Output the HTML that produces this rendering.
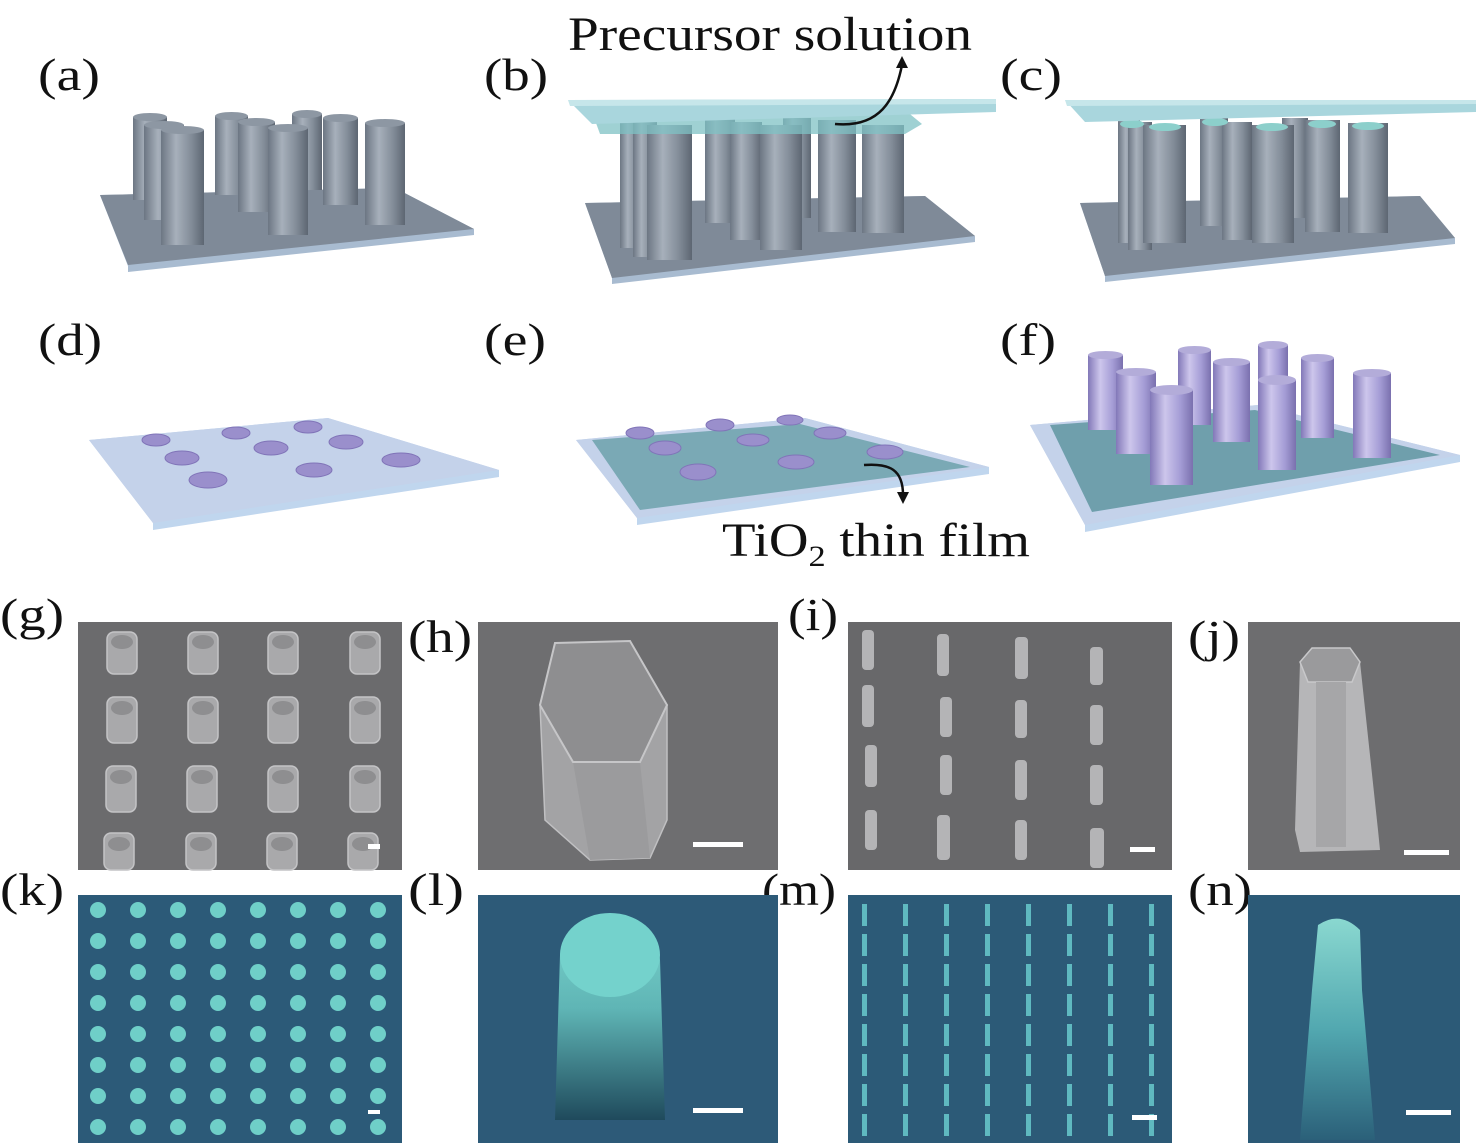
<!DOCTYPE html>
<html><head><meta charset="utf-8"><style>
html,body{margin:0;padding:0;background:#fff;}
svg{display:block;}
text{font-family:"Liberation Serif",serif;fill:#111;}
</style></head><body>
<svg width="1476" height="1146" viewBox="0 0 1476 1146" xmlns="http://www.w3.org/2000/svg">
<defs>
<linearGradient id="gc" x1="0" x2="1" y1="0" y2="0">
<stop offset="0" stop-color="#6c7683"/><stop offset="0.35" stop-color="#a7b0bb"/><stop offset="0.7" stop-color="#838d99"/><stop offset="1" stop-color="#5d6672"/></linearGradient>
<linearGradient id="pc" x1="0" x2="1" y1="0" y2="0">
<stop offset="0" stop-color="#8278b8"/><stop offset="0.35" stop-color="#cdc6ec"/><stop offset="0.7" stop-color="#a59dd6"/><stop offset="1" stop-color="#7a70ae"/></linearGradient>
<linearGradient id="lt" x1="0" x2="0" y1="0" y2="1">
<stop offset="0" stop-color="#7ad3cd"/><stop offset="0.45" stop-color="#5fb5b5"/><stop offset="1" stop-color="#1f4a5c"/></linearGradient>
<linearGradient id="nt" x1="0" x2="0" y1="0" y2="1">
<stop offset="0" stop-color="#8ad8d0"/><stop offset="0.5" stop-color="#52a8b0"/><stop offset="1" stop-color="#2b6079"/></linearGradient>
</defs>

<!-- labels -->
<text x="38" y="90" font-size="46" textLength="62" lengthAdjust="spacingAndGlyphs">(a)</text>
<text x="484" y="90" font-size="46" textLength="64" lengthAdjust="spacingAndGlyphs">(b)</text>
<text x="1000" y="90" font-size="46" textLength="62" lengthAdjust="spacingAndGlyphs">(c)</text>
<text x="568" y="50" font-size="48" textLength="404" lengthAdjust="spacingAndGlyphs">Precursor solution</text>
<text x="38" y="355" font-size="46" textLength="64" lengthAdjust="spacingAndGlyphs">(d)</text>
<text x="484" y="355" font-size="46" textLength="62" lengthAdjust="spacingAndGlyphs">(e)</text>
<text x="1000" y="355" font-size="46" textLength="56" lengthAdjust="spacingAndGlyphs">(f)</text>
<text x="722" y="556" font-size="48" textLength="308" lengthAdjust="spacingAndGlyphs">TiO<tspan font-size="30" dy="10">2</tspan><tspan dy="-10"> thin film</tspan></text>
<text x="0" y="630" font-size="46" textLength="64" lengthAdjust="spacingAndGlyphs">(g)</text>
<text x="408" y="652" font-size="46" textLength="64" lengthAdjust="spacingAndGlyphs">(h)</text>
<text x="788" y="630" font-size="46" textLength="50" lengthAdjust="spacingAndGlyphs">(i)</text>
<text x="1188" y="652" font-size="46" textLength="52" lengthAdjust="spacingAndGlyphs">(j)</text>
<text x="0" y="905" font-size="46" textLength="64" lengthAdjust="spacingAndGlyphs">(k)</text>
<text x="408" y="905" font-size="46" textLength="56" lengthAdjust="spacingAndGlyphs">(l)</text>
<text x="762" y="905" font-size="46" textLength="74" lengthAdjust="spacingAndGlyphs">(m)</text>
<text x="1188" y="905" font-size="46" textLength="64" lengthAdjust="spacingAndGlyphs">(n)</text>

<!-- (a) -->
<polygon points="100,195 395,188 474,229 474,235 128,272 128,266" fill="#a8bbd0"/>
<polygon points="100,195 395,188 474,229 128,265" fill="#7f8a98"/>
<g fill="url(#gc)">
<rect x="133" y="117" width="34" height="83"/><ellipse cx="150" cy="117" rx="17" ry="4" fill="#8d97a3"/>
<rect x="215" y="116" width="33" height="79"/><ellipse cx="231.5" cy="116" rx="16.5" ry="4" fill="#8d97a3"/>
<rect x="292" y="114" width="30" height="76"/><ellipse cx="307" cy="114" rx="15" ry="4" fill="#8d97a3"/>
<rect x="144" y="125" width="40" height="95"/><ellipse cx="164" cy="125" rx="20" ry="4" fill="#8d97a3"/>
<rect x="238" y="122" width="37" height="90"/><ellipse cx="256.5" cy="122" rx="18.5" ry="4" fill="#8d97a3"/>
<rect x="323" y="118" width="35" height="87"/><ellipse cx="340.5" cy="118" rx="17.5" ry="4" fill="#8d97a3"/>
<rect x="161" y="130" width="43" height="115"/><ellipse cx="182.5" cy="130" rx="21.5" ry="4" fill="#8d97a3"/>
<rect x="268" y="128" width="40" height="107"/><ellipse cx="288" cy="128" rx="20" ry="4" fill="#8d97a3"/>
<rect x="365" y="123" width="40" height="102"/><ellipse cx="385" cy="123" rx="20" ry="4" fill="#8d97a3"/>
</g>

<!-- (b) -->
<polygon points="585,203 925,196 975,236 975,242 612,284 612,278" fill="#a8bbd0"/>
<polygon points="585,203 925,196 975,236 612,278" fill="#7f8a98"/>
<g fill="url(#gc)">
<rect x="620" y="118" width="22" height="130"/>
<rect x="633" y="122" width="24" height="135"/>
<rect x="705" y="118" width="30" height="105"/>
<rect x="783" y="118" width="28" height="100"/>
<rect x="730" y="122" width="32" height="118"/>
<rect x="818" y="120" width="38" height="112"/>
<rect x="647" y="125" width="45" height="135"/>
<rect x="760" y="125" width="42" height="125"/>
<rect x="862" y="125" width="42" height="108"/>
</g>
<polygon points="592,112 905,110 922,124 905,134 600,134" fill="#7fc1c4" opacity="0.75"/>
<polygon points="568,100 996,99 996,112 592,124" fill="#a9d6dd"/>
<polygon points="568,100 996,99 996,104 570,106" fill="#c6e6ea"/>
<path d="M835,124 C880,128 895,100 902,65" fill="none" stroke="#111" stroke-width="2.5"/>
<polygon points="902,56 896,68 908,68" fill="#111"/>

<!-- (c) -->
<polygon points="1080,203 1420,196 1455,238 1455,244 1105,282 1105,276" fill="#a8bbd0"/>
<polygon points="1080,203 1420,196 1455,238 1105,276" fill="#7f8a98"/>
<g fill="url(#gc)">
<rect x="1118" y="118" width="22" height="125"/>
<rect x="1128" y="122" width="24" height="128"/>
<rect x="1200" y="118" width="28" height="108"/>
<rect x="1282" y="118" width="26" height="100"/>
<rect x="1222" y="122" width="30" height="118"/>
<rect x="1305" y="120" width="35" height="112"/>
<rect x="1143" y="125" width="43" height="118"/>
<rect x="1252" y="125" width="42" height="118"/>
<rect x="1348" y="123" width="40" height="110"/>
</g>
<g fill="#8ccfcb">
<ellipse cx="1132" cy="124" rx="12" ry="4"/><ellipse cx="1165" cy="127" rx="16" ry="4"/><ellipse cx="1215" cy="122" rx="13" ry="4"/>
<ellipse cx="1272" cy="127" rx="16" ry="4"/><ellipse cx="1322" cy="124" rx="14" ry="4"/><ellipse cx="1368" cy="126" rx="16" ry="4"/>
</g>
<polygon points="1065,100 1476,100 1476,112 1085,122" fill="#a9d6dd"/>
<polygon points="1065,100 1476,100 1476,104 1067,106" fill="#c6e6ea"/>

<!-- (d) -->
<polygon points="89,440 328,418 499,470 499,477 153,530 153,523" fill="#c0d6ee"/>
<polygon points="89,440 328,418 499,470 153,523" fill="#c4d2ea"/>
<g fill="#9a8fcc" stroke="#8074b8" stroke-width="1">
<ellipse cx="156" cy="440" rx="14" ry="6"/><ellipse cx="236" cy="433" rx="14" ry="6"/><ellipse cx="308" cy="427" rx="14" ry="6"/>
<ellipse cx="182" cy="458" rx="17" ry="7"/><ellipse cx="271" cy="448" rx="17" ry="7"/><ellipse cx="346" cy="442" rx="17" ry="7"/>
<ellipse cx="208" cy="480" rx="19" ry="8"/><ellipse cx="314" cy="470" rx="18" ry="7"/><ellipse cx="401" cy="460" rx="19" ry="7"/>
</g>

<!-- (e) -->
<polygon points="576,440 805,418 989,467 989,474 637,525 637,518" fill="#c0d6ee"/>
<polygon points="576,440 805,418 989,467 637,518" fill="#c4d2ea"/>
<polygon points="592,440 800,424 970,467 640,510" fill="#7aa9b5"/>
<g fill="#9a8fcc" stroke="#8074b8" stroke-width="1">
<ellipse cx="640" cy="433" rx="14" ry="6"/><ellipse cx="720" cy="425" rx="14" ry="6"/><ellipse cx="790" cy="420" rx="13" ry="5"/>
<ellipse cx="665" cy="448" rx="16" ry="7"/><ellipse cx="753" cy="440" rx="16" ry="6"/><ellipse cx="830" cy="433" rx="16" ry="6"/>
<ellipse cx="698" cy="472" rx="18" ry="8"/><ellipse cx="796" cy="462" rx="18" ry="7"/><ellipse cx="885" cy="452" rx="18" ry="7"/>
</g>
<path d="M864,465 C890,463 903,470 903,495" fill="none" stroke="#111" stroke-width="2.5"/>
<polygon points="903,504 897,492 909,492" fill="#111"/>

<!-- (f) -->
<polygon points="1030,425 1258,405 1460,455 1460,462 1085,532 1085,525" fill="#c0d6ee"/>
<polygon points="1030,425 1258,405 1460,455 1085,525" fill="#c4d2ea"/>
<polygon points="1050,425 1255,410 1440,455 1092,512" fill="#6f9fac"/>
<g fill="url(#pc)">
<rect x="1088" y="355" width="35" height="75"/><ellipse cx="1105.5" cy="355" rx="17.5" ry="4" fill="#b3acd9"/>
<rect x="1178" y="350" width="33" height="75"/><ellipse cx="1194.5" cy="350" rx="16.5" ry="4" fill="#b3acd9"/>
<rect x="1258" y="345" width="30" height="55"/><ellipse cx="1273" cy="345" rx="15" ry="4" fill="#b3acd9"/>
<rect x="1301" y="358" width="33" height="80"/><ellipse cx="1317.5" cy="358" rx="16.5" ry="4" fill="#b3acd9"/>
<rect x="1213" y="362" width="37" height="80"/><ellipse cx="1231.5" cy="362" rx="18.5" ry="4" fill="#b3acd9"/>
<rect x="1353" y="373" width="38" height="85"/><ellipse cx="1372" cy="373" rx="19" ry="4" fill="#b3acd9"/>
<rect x="1116" y="372" width="40" height="82"/><ellipse cx="1136" cy="372" rx="20" ry="4" fill="#b3acd9"/>
<rect x="1150" y="390" width="43" height="95"/><ellipse cx="1171.5" cy="390" rx="21.5" ry="5" fill="#b3acd9"/>
<rect x="1258" y="380" width="38" height="90"/><ellipse cx="1277" cy="380" rx="19" ry="5" fill="#b3acd9"/>
</g>

<!-- (g) -->
<rect x="78" y="622" width="324" height="248" fill="#6b6b6d"/>
<g fill="#a9a9ab" stroke="#c4c4c6" stroke-width="1.5">
<rect x="107" y="632" width="30" height="42" rx="7"/><rect x="188" y="632" width="30" height="42" rx="7"/><rect x="268" y="632" width="30" height="42" rx="7"/><rect x="350" y="632" width="30" height="42" rx="7"/>
<rect x="107" y="697" width="30" height="46" rx="7"/><rect x="188" y="697" width="30" height="46" rx="7"/><rect x="268" y="697" width="30" height="46" rx="7"/><rect x="350" y="697" width="30" height="46" rx="7"/>
<rect x="106" y="766" width="30" height="46" rx="7"/><rect x="187" y="766" width="30" height="46" rx="7"/><rect x="268" y="766" width="30" height="46" rx="7"/><rect x="350" y="766" width="30" height="46" rx="7"/>
<rect x="104" y="833" width="30" height="37" rx="7"/><rect x="186" y="833" width="30" height="37" rx="7"/><rect x="267" y="833" width="30" height="37" rx="7"/><rect x="348" y="833" width="30" height="37" rx="7"/>
</g>
<g fill="#8e8e90">
<ellipse cx="122" cy="642" rx="11" ry="7"/><ellipse cx="203" cy="642" rx="11" ry="7"/><ellipse cx="283" cy="642" rx="11" ry="7"/><ellipse cx="365" cy="642" rx="11" ry="7"/>
<ellipse cx="122" cy="708" rx="11" ry="7"/><ellipse cx="203" cy="708" rx="11" ry="7"/><ellipse cx="283" cy="708" rx="11" ry="7"/><ellipse cx="365" cy="708" rx="11" ry="7"/>
<ellipse cx="121" cy="777" rx="11" ry="7"/><ellipse cx="202" cy="777" rx="11" ry="7"/><ellipse cx="283" cy="777" rx="11" ry="7"/><ellipse cx="365" cy="777" rx="11" ry="7"/>
<ellipse cx="119" cy="844" rx="11" ry="7"/><ellipse cx="201" cy="844" rx="11" ry="7"/><ellipse cx="282" cy="844" rx="11" ry="7"/><ellipse cx="363" cy="844" rx="11" ry="7"/>
</g>
<rect x="368" y="844" width="12" height="5" fill="#fff"/>

<!-- (h) -->
<rect x="478" y="622" width="300" height="248" fill="#6e6e70"/>
<polygon points="540,705 545,820 590,860 650,858 667,820 667,705" fill="#a3a3a5" stroke="#c0c0c2" stroke-width="1.5"/>
<polygon points="573,762 640,762 650,858 590,860" fill="#9b9b9d"/>
<polygon points="555,643 630,641 667,705 640,762 573,762 540,705" fill="#8e8e90" stroke="#c6c6c8" stroke-width="2"/>
<rect x="693" y="842" width="50" height="5" fill="#fff"/>

<!-- (i) -->
<rect x="848" y="622" width="324" height="248" fill="#68686a"/>
<g fill="#b4b4b6">
<rect x="862" y="630" width="12" height="40" rx="4"/><rect x="937" y="634" width="12" height="42" rx="4"/><rect x="1015" y="637" width="13" height="42" rx="4"/><rect x="1090" y="647" width="13" height="38" rx="4"/>
<rect x="862" y="685" width="12" height="42" rx="4"/><rect x="940" y="697" width="12" height="40" rx="4"/><rect x="1015" y="700" width="12" height="38" rx="4"/><rect x="1090" y="705" width="13" height="40" rx="4"/>
<rect x="865" y="745" width="12" height="42" rx="4"/><rect x="940" y="755" width="12" height="40" rx="4"/><rect x="1015" y="760" width="12" height="40" rx="4"/><rect x="1090" y="765" width="13" height="40" rx="4"/>
<rect x="865" y="810" width="12" height="40" rx="4"/><rect x="937" y="815" width="13" height="45" rx="4"/><rect x="1015" y="820" width="12" height="40" rx="4"/><rect x="1090" y="828" width="14" height="40" rx="4"/>
</g>
<rect x="1130" y="847" width="25" height="5" fill="#fff"/>

<!-- (j) -->
<rect x="1248" y="622" width="212" height="248" fill="#6d6d6f"/>
<polygon points="1312,648 1350,648 1360,662 1378,830 1380,850 1300,852 1295,830 1300,662" fill="#b6b6b8"/>
<polygon points="1312,648 1350,648 1360,662 1352,682 1308,682 1300,662" fill="#9a9a9c" stroke="#c8c8ca" stroke-width="1.5"/>
<rect x="1316" y="682" width="30" height="165" fill="#a6a6a8"/>
<rect x="1404" y="850" width="45" height="5" fill="#fff"/>

<!-- (k) -->
<rect x="78" y="895" width="324" height="248" fill="#2c5a78"/>
<g fill="#6fcfc8">
<circle cx="98" cy="910" r="8"/><circle cx="138" cy="910" r="8"/><circle cx="178" cy="910" r="8"/><circle cx="218" cy="910" r="8"/><circle cx="258" cy="910" r="8"/><circle cx="298" cy="910" r="8"/><circle cx="338" cy="910" r="8"/><circle cx="378" cy="910" r="8"/>
<circle cx="98" cy="941" r="8"/><circle cx="138" cy="941" r="8"/><circle cx="178" cy="941" r="8"/><circle cx="218" cy="941" r="8"/><circle cx="258" cy="941" r="8"/><circle cx="298" cy="941" r="8"/><circle cx="338" cy="941" r="8"/><circle cx="378" cy="941" r="8"/>
<circle cx="98" cy="972" r="8"/><circle cx="138" cy="972" r="8"/><circle cx="178" cy="972" r="8"/><circle cx="218" cy="972" r="8"/><circle cx="258" cy="972" r="8"/><circle cx="298" cy="972" r="8"/><circle cx="338" cy="972" r="8"/><circle cx="378" cy="972" r="8"/>
<circle cx="98" cy="1003" r="8"/><circle cx="138" cy="1003" r="8"/><circle cx="178" cy="1003" r="8"/><circle cx="218" cy="1003" r="8"/><circle cx="258" cy="1003" r="8"/><circle cx="298" cy="1003" r="8"/><circle cx="338" cy="1003" r="8"/><circle cx="378" cy="1003" r="8"/>
<circle cx="98" cy="1034" r="8"/><circle cx="138" cy="1034" r="8"/><circle cx="178" cy="1034" r="8"/><circle cx="218" cy="1034" r="8"/><circle cx="258" cy="1034" r="8"/><circle cx="298" cy="1034" r="8"/><circle cx="338" cy="1034" r="8"/><circle cx="378" cy="1034" r="8"/>
<circle cx="98" cy="1065" r="8"/><circle cx="138" cy="1065" r="8"/><circle cx="178" cy="1065" r="8"/><circle cx="218" cy="1065" r="8"/><circle cx="258" cy="1065" r="8"/><circle cx="298" cy="1065" r="8"/><circle cx="338" cy="1065" r="8"/><circle cx="378" cy="1065" r="8"/>
<circle cx="98" cy="1096" r="8"/><circle cx="138" cy="1096" r="8"/><circle cx="178" cy="1096" r="8"/><circle cx="218" cy="1096" r="8"/><circle cx="258" cy="1096" r="8"/><circle cx="298" cy="1096" r="8"/><circle cx="338" cy="1096" r="8"/><circle cx="378" cy="1096" r="8"/>
<circle cx="98" cy="1127" r="8"/><circle cx="138" cy="1127" r="8"/><circle cx="178" cy="1127" r="8"/><circle cx="218" cy="1127" r="8"/><circle cx="258" cy="1127" r="8"/><circle cx="298" cy="1127" r="8"/><circle cx="338" cy="1127" r="8"/><circle cx="378" cy="1127" r="8"/>
</g>
<rect x="368" y="1110" width="12" height="4" fill="#fff"/>

<!-- (l) -->
<rect x="478" y="895" width="300" height="248" fill="#2d5a78"/>
<path d="M560,955 Q565,920 610,918 Q655,920 660,960 L665,1120 L555,1120 Z" fill="url(#lt)"/>
<ellipse cx="610" cy="955" rx="50" ry="42" fill="#74d2cc"/>
<rect x="693" y="1108" width="50" height="5" fill="#fff"/>

<!-- (m) -->
<rect x="848" y="895" width="324" height="248" fill="#2c5a77"/>
<g fill="#5fb9c0">
<rect x="862" y="904" width="5" height="22"/><rect x="903" y="904" width="5" height="22"/><rect x="944" y="904" width="5" height="22"/><rect x="985" y="904" width="5" height="22"/><rect x="1026" y="904" width="5" height="22"/><rect x="1067" y="904" width="5" height="22"/><rect x="1108" y="904" width="5" height="22"/><rect x="1149" y="904" width="5" height="22"/>
<rect x="862" y="934" width="5" height="22"/><rect x="903" y="934" width="5" height="22"/><rect x="944" y="934" width="5" height="22"/><rect x="985" y="934" width="5" height="22"/><rect x="1026" y="934" width="5" height="22"/><rect x="1067" y="934" width="5" height="22"/><rect x="1108" y="934" width="5" height="22"/><rect x="1149" y="934" width="5" height="22"/>
<rect x="862" y="964" width="5" height="22"/><rect x="903" y="964" width="5" height="22"/><rect x="944" y="964" width="5" height="22"/><rect x="985" y="964" width="5" height="22"/><rect x="1026" y="964" width="5" height="22"/><rect x="1067" y="964" width="5" height="22"/><rect x="1108" y="964" width="5" height="22"/><rect x="1149" y="964" width="5" height="22"/>
<rect x="862" y="994" width="5" height="22"/><rect x="903" y="994" width="5" height="22"/><rect x="944" y="994" width="5" height="22"/><rect x="985" y="994" width="5" height="22"/><rect x="1026" y="994" width="5" height="22"/><rect x="1067" y="994" width="5" height="22"/><rect x="1108" y="994" width="5" height="22"/><rect x="1149" y="994" width="5" height="22"/>
<rect x="862" y="1024" width="5" height="22"/><rect x="903" y="1024" width="5" height="22"/><rect x="944" y="1024" width="5" height="22"/><rect x="985" y="1024" width="5" height="22"/><rect x="1026" y="1024" width="5" height="22"/><rect x="1067" y="1024" width="5" height="22"/><rect x="1108" y="1024" width="5" height="22"/><rect x="1149" y="1024" width="5" height="22"/>
<rect x="862" y="1054" width="5" height="22"/><rect x="903" y="1054" width="5" height="22"/><rect x="944" y="1054" width="5" height="22"/><rect x="985" y="1054" width="5" height="22"/><rect x="1026" y="1054" width="5" height="22"/><rect x="1067" y="1054" width="5" height="22"/><rect x="1108" y="1054" width="5" height="22"/><rect x="1149" y="1054" width="5" height="22"/>
<rect x="862" y="1084" width="5" height="22"/><rect x="903" y="1084" width="5" height="22"/><rect x="944" y="1084" width="5" height="22"/><rect x="985" y="1084" width="5" height="22"/><rect x="1026" y="1084" width="5" height="22"/><rect x="1067" y="1084" width="5" height="22"/><rect x="1108" y="1084" width="5" height="22"/><rect x="1149" y="1084" width="5" height="22"/>
<rect x="862" y="1114" width="5" height="22"/><rect x="903" y="1114" width="5" height="22"/><rect x="944" y="1114" width="5" height="22"/><rect x="985" y="1114" width="5" height="22"/><rect x="1026" y="1114" width="5" height="22"/><rect x="1067" y="1114" width="5" height="22"/><rect x="1108" y="1114" width="5" height="22"/><rect x="1149" y="1114" width="5" height="22"/>
</g>
<rect x="1132" y="1115" width="25" height="5" fill="#fff"/>

<!-- (n) -->
<rect x="1248" y="895" width="212" height="248" fill="#2c5a77"/>
<path d="M1318,925 Q1340,910 1360,930 L1362,990 L1375,1140 L1300,1140 L1312,990 Z" fill="url(#nt)"/>
<rect x="1406" y="1110" width="45" height="5" fill="#fff"/>
</svg>
</body></html>
